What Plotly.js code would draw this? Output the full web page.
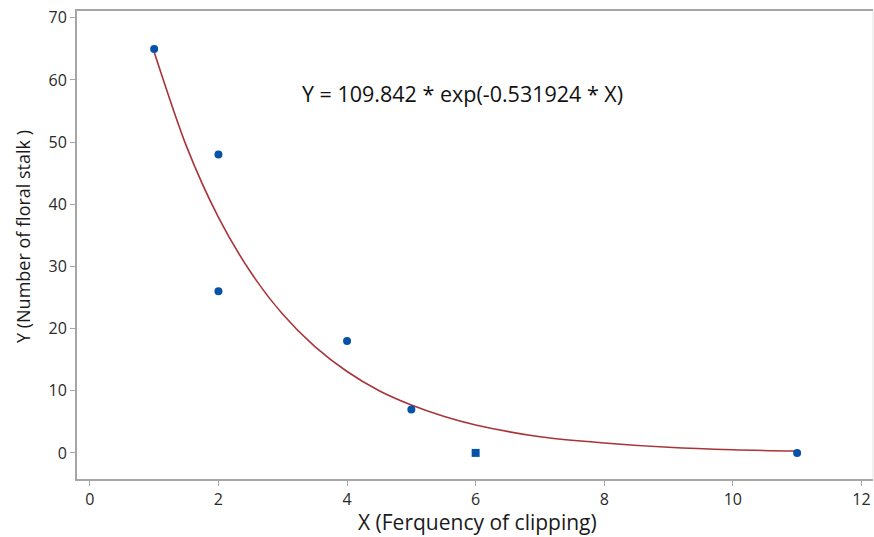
<!DOCTYPE html>
<html>
<head>
<meta charset="utf-8">
<script src="https://cdn.plot.ly/plotly-3.0.1.min.js"></script>
<style>html,body{margin:0;padding:0;background:#fff;}#chart{width:874px;height:537px;}</style>
</head>
<body>
<div id="chart"></div>
<script>
// Observed data points
const pointX = [1, 2, 2, 4, 5, 6, 11];
const pointY = [65, 48, 26, 18, 7, 0, 0];
const pointSymbols = ["circle", "circle", "circle", "circle", "circle", "square", "circle"];

// Fitted curve
const curveX = [1, 1.5, 2, 2.5, 3, 3.5, 4, 4.5, 5, 5.5, 6, 7, 8, 9, 10, 11];
const curveY = [64.5, 49.4, 37.9, 29.1, 22.3, 17.1, 13.1, 10.0, 7.7, 5.9, 4.5, 2.6, 1.6, 0.9, 0.5, 0.3];

const equationText = "Y = 109.842 * exp(-0.531924 * X)";
const xTitle = "X (Ferquency of clipping)";
const yTitle = "Y (Number of floral stalk )";
const xTicks = [0, 2, 4, 6, 8, 10, 12];
const yTicks = [0, 10, 20, 30, 40, 50, 60, 70];

const fontFam = "'Open Sans', 'Noto Sans', sans-serif";

const traces = [
  {
    x: curveX, y: curveY, mode: "lines", type: "scatter",
    line: {color: "#a8343a", width: 1.6, shape: "spline", smoothing: 0.8},
    hoverinfo: "skip", showlegend: false
  },
  {
    x: pointX, y: pointY, mode: "markers", type: "scatter",
    marker: {color: "#0652a8", size: 8, symbol: pointSymbols},
    showlegend: false
  }
];

const layout = {
  width: 874, height: 537,
  margin: {l: 77, r: 1, t: 11, b: 58},
  paper_bgcolor: "#fff", plot_bgcolor: "#fff",
  font: {family: fontFam, color: "#222"},
  xaxis: {
    range: [-0.2, 12.18], tickvals: xTicks, ticktext: xTicks.map(String),
    showgrid: false, zeroline: false,
    showline: true, linecolor: "#a6a6a6", linewidth: 2, mirror: true,
    ticks: "outside", ticklen: 5, tickcolor: "#a6a6a6", tickwidth: 1,
    tickfont: {size: 16, color: "#2a2a2a"}
  },
  yaxis: {
    range: [-4.2, 71.1], tickvals: yTicks, ticktext: yTicks.map(String),
    showgrid: false, zeroline: false,
    showline: true, linecolor: "#a6a6a6", linewidth: 2, mirror: false,
    ticks: "outside", ticklen: 5, tickcolor: "#a6a6a6", tickwidth: 1,
    tickfont: {size: 16, color: "#2a2a2a"}
  },
  shapes: [
    {type: "line", xref: "paper", yref: "paper", x0: 1, x1: 1, y0: 0, y1: 1,
     line: {color: "#e4e4e4", width: 1}}
  ],
  annotations: [
    {text: equationText, xref: "x", yref: "y", x: 5.8, y: 57.9, showarrow: false,
     font: {size: 21.5, color: "#111", family: fontFam}},
    {text: xTitle, xref: "paper", yref: "paper", x: 0.503, y: -0.091,
     xanchor: "center", yanchor: "middle", showarrow: false,
     font: {size: 21, color: "#1a1a1a", family: fontFam}},
    {text: yTitle, xref: "paper", yref: "paper", x: -0.068, y: 0.519, textangle: -90,
     xanchor: "center", yanchor: "middle", showarrow: false,
     font: {size: 18, color: "#1a1a1a", family: fontFam}}
  ]
};

Plotly.newPlot("chart", traces, layout, {displayModeBar: false, staticPlot: true});
</script>
</body>
</html>
